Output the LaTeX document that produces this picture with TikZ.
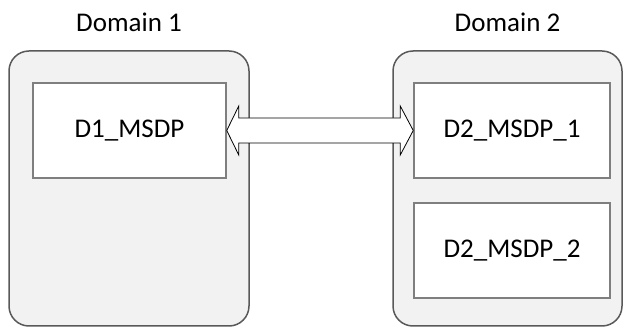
\documentclass[tikz,border=0pt]{standalone}
\usepackage{fontspec}
\setmainfont{Carlito}
\usepackage{tikz}
\usetikzlibrary{positioning, calc}
\definecolor{DomFill}{RGB}{242, 242, 242}
\definecolor{DomLine}{RGB}{89, 89, 89}
\definecolor{BoxLine}{RGB}{127, 127, 127}

\begin{document}
\begin{tikzpicture}[x=1pt, y=-1pt, font=\fontsize{27}{31}\selectfont,
    domainbox/.style={draw=DomLine, fill=DomFill, line width=1.5pt, rounded corners=20pt, inner sep=0pt},
    msdpbox/.style={draw=BoxLine, fill=white, line width=1.5pt, inner sep=0pt, minimum width=193pt, minimum height=95pt},
    linkarrow/.style={draw=black, fill=white, line width=0.8pt, line join=miter}]
    \useasboundingbox (0,0) rectangle (626,328);

    % domains
    \node (dom1) [domainbox, minimum width=240pt, minimum height=275pt] at (129,188.5) {};
    \node (dom2) [domainbox, minimum width=229pt, minimum height=275pt] at (507.5,188.5) {};
    \node (lab1) [above=19pt of dom1.north, anchor=base] {Domain 1};
    \node (lab2) [above=19pt of dom2.north, anchor=base] {Domain 2};

    % MSDP peers
    \node (d1) [msdpbox] at (129.5,130.5) {D1\_MSDP};
    \node (d21) [msdpbox, minimum width=196pt] at (512,130.5) {D2\_MSDP\_1};
    \node (d22) [msdpbox, minimum width=196pt] at (512,250.5) {D2\_MSDP\_2};

    % peering link
    \draw[linkarrow] (d1.east) -- ++(12,-24.5) -- ++(0,12)
        -- ($(d21.west)+(-13,-12.5)$) -- ++(0,-12) -- (d21.west)
        -- ++(-13,24.5) -- ++(0,-12) -- ($(d1.east)+(12,12.5)$)
        -- ++(0,12) -- cycle;
\end{tikzpicture}
\end{document}
